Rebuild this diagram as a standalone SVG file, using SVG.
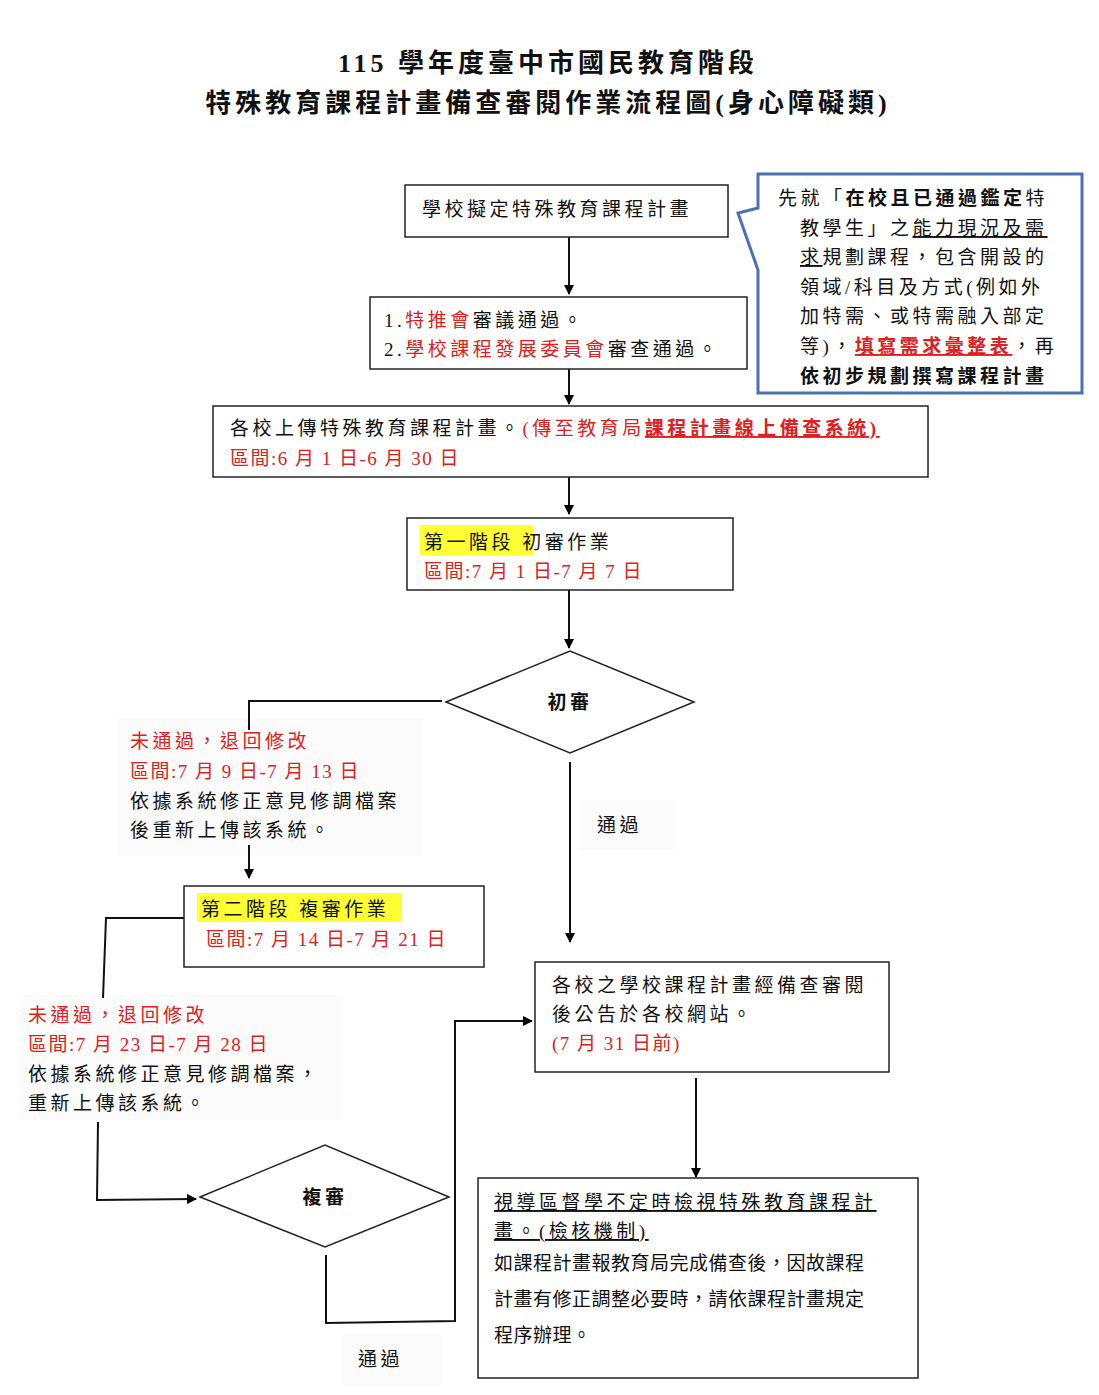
<svg xmlns="http://www.w3.org/2000/svg" width="1099" height="1395" viewBox="0 0 1099 1395">
<defs>
<marker id="ah" markerWidth="10" markerHeight="10" refX="9" refY="5" orient="auto" markerUnits="userSpaceOnUse"><path d="M0,0 L10,5 L0,10 Z" fill="#000"/></marker>
<style>
text{font-family:"Liberation Serif","Noto Sans CJK TC",serif;font-size:19px;fill:#111;letter-spacing:3.5px}
.r{fill:#e02020}
.b{font-weight:bold}
.d{letter-spacing:1.5px}
.t{font-size:26px;font-weight:bold;letter-spacing:4px}
.box{fill:#fff;stroke:#222;stroke-width:1.5}
.ln{fill:none;stroke:#111;stroke-width:2}
.bg{fill:#fbfbfb}
.u{text-decoration:underline}
</style>
</defs>
<rect width="1099" height="1395" fill="#fff"/>
<g id="title">
<text class="t" x="548" y="72" text-anchor="middle">115 學年度臺中市國民教育階段</text>
<text class="t" x="548" y="112" text-anchor="middle">特殊教育課程計畫備查審閱作業流程圖(身心障礙類)</text>
</g>
<g id="bgs">
<rect class="bg" x="118" y="718" width="305" height="138"/>
<rect class="bg" x="20" y="995" width="322" height="125"/>
<rect class="bg" x="580" y="800" width="95" height="50"/>
<rect class="bg" x="342" y="1335" width="100" height="50"/>
</g>
<g id="connectors">
<line class="ln" x1="569" y1="237" x2="569" y2="294" marker-end="url(#ah)"/>
<line class="ln" x1="569" y1="369" x2="569" y2="404" marker-end="url(#ah)"/>
<line class="ln" x1="569" y1="477" x2="569" y2="514" marker-end="url(#ah)"/>
<line class="ln" x1="569" y1="590" x2="569" y2="648" marker-end="url(#ah)"/>
<polyline class="ln" points="442,701 249,701 249,730"/>
<line class="ln" x1="249" y1="845" x2="249" y2="878" marker-end="url(#ah)"/>
<line class="ln" x1="570" y1="762" x2="570" y2="942" marker-end="url(#ah)"/>
<line class="ln" x1="696" y1="1078" x2="696" y2="1177" marker-end="url(#ah)"/>
<polyline class="ln" points="184,918 106,918 103,998"/>
<polyline class="ln" points="98,1122 97,1200 196,1199" marker-end="url(#ah)"/>
<polyline class="ln" points="326,1255 326,1323 455,1321 455,1021 532,1021" marker-end="url(#ah)"/>
</g>
<g id="n1">
<rect class="box" x="405" y="185" width="323" height="52"/>
<text x="422" y="216">學校擬定特殊教育課程計畫</text>
</g>
<g id="n2">
<rect class="box" x="370" y="297" width="377" height="72"/>
<text x="384" y="327">1.<tspan class="r">特推會</tspan>審議通過。</text>
<text x="384" y="356">2.<tspan class="r">學校課程發展委員會</tspan>審查通過。</text>
</g>
<g id="n3">
<rect class="box" x="213" y="406" width="715" height="71"/>
<text x="230" y="435">各校上傳特殊教育課程計畫。<tspan class="r">(傳至教育局</tspan><tspan class="r b u">課程計畫線上備查系統)</tspan></text>
<text x="230" y="465" class="r d">區間:6 月 1 日-6 月 30 日</text>
</g>
<g id="n4">
<rect class="box" x="407" y="518" width="326" height="72"/>
<rect x="420" y="525" width="113" height="30" fill="#ffff33"/>
<text x="424" y="549">第一階段  初審作業</text>
<text x="424" y="578" class="r d">區間:7 月 1 日-7 月 7 日</text>
</g>
<g id="d1">
<polygon points="446,702 570,651 694,702 570,753" fill="#fff" stroke="#222" stroke-width="1.5"/>
<text x="570" y="709" text-anchor="middle" class="b">初審</text>
</g>
<g id="fail1">
<text x="130" y="748" class="r">未通過，退回修改</text>
<text x="130" y="778" class="r d">區間:7 月 9 日-7 月 13 日</text>
<text x="130" y="808">依據系統修正意見修調檔案</text>
<text x="130" y="837">後重新上傳該系統。</text>
</g>
<g id="pass1"><text x="597" y="832">通過</text></g>
<g id="n5">
<rect class="box" x="184" y="886" width="300" height="81"/>
<rect x="197" y="893" width="205" height="29" fill="#ffff33"/>
<text x="201" y="916">第二階段  複審作業</text>
<text x="206" y="946" class="r d">區間:7 月 14 日-7 月 21 日</text>
</g>
<g id="fail2">
<text x="28" y="1022" class="r">未通過，退回修改</text>
<text x="28" y="1051" class="r d">區間:7 月 23 日-7 月 28 日</text>
<text x="28" y="1081">依據系統修正意見修調檔案，</text>
<text x="28" y="1110">重新上傳該系統。</text>
</g>
<g id="d2">
<polygon points="200,1197 325,1145 449,1197 325,1247" fill="#fff" stroke="#222" stroke-width="1.5"/>
<text x="325" y="1204" text-anchor="middle" class="b">複審</text>
</g>
<g id="pass2"><text x="358" y="1366">通過</text></g>
<g id="n6">
<rect class="box" x="535" y="962" width="354" height="110"/>
<text x="552" y="992">各校之學校課程計畫經備查審閱</text>
<text x="552" y="1021">後公告於各校網站。</text>
<text x="552" y="1050" class="r d">(7 月 31 日前)</text>
</g>
<g id="n7">
<rect class="box" x="478" y="1178" width="440" height="200"/>
<text x="494" y="1209" class="u">視導區督學不定時檢視特殊教育課程計</text>
<text x="494" y="1238" class="u">畫。(檢核機制)</text>
<text x="494" y="1270" style="letter-spacing:0.5px">如課程計畫報教育局完成備查後，因故課程</text>
<text x="494" y="1306" style="letter-spacing:0.5px">計畫有修正調整必要時，請依課程計畫規定</text>
<text x="494" y="1342" style="letter-spacing:0.5px">程序辦理。</text>
</g>
<g id="note">
<path d="M758,174 H1082 V393 H758 V270 L738,213 L758,208 Z" fill="#fff" stroke="#4a72b0" stroke-width="3" stroke-linejoin="miter"/>
<text x="778" y="205">先就「<tspan class="b">在校且已通過鑑定</tspan>特</text>
<text x="800" y="235">教學生」之<tspan class="u">能力現況及需</tspan></text>
<text x="800" y="264"><tspan class="u">求</tspan>規劃課程，包含開設的</text>
<text x="800" y="294">領域/科目及方式(例如外</text>
<text x="800" y="323">加特需、或特需融入部定</text>
<text x="800" y="353">等)，<tspan class="r b u">填寫需求彙整表</tspan>，再</text>
<text x="800" y="383" class="b">依初步規劃撰寫課程計畫</text>
</g>
</svg>
